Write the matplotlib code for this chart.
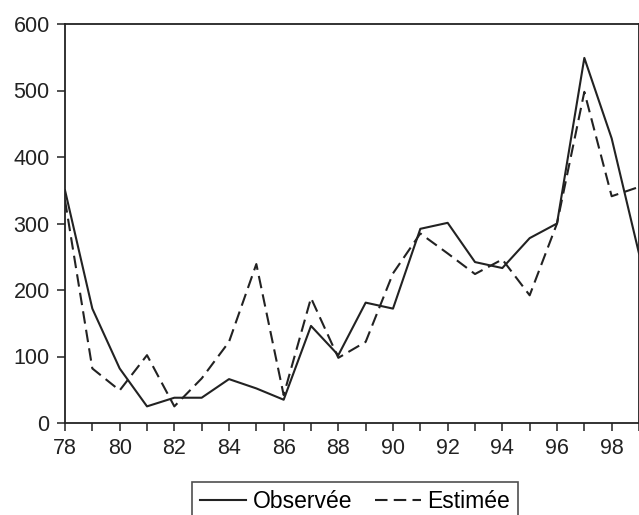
import matplotlib
matplotlib.use("Agg")
import matplotlib.pyplot as plt
from matplotlib.ticker import MultipleLocator

plt.rcParams['font.family'] = ['Liberation Sans', 'DejaVu Sans']

years = list(range(78, 100))
observee = [350, 172, 82, 25, 38, 38, 66, 52, 35, 146, 102, 181, 172, 292,
            301, 242, 233, 278, 300, 549, 428, 255]
estimee = [335, 82, 49, 102, 25, 67, 122, 239, 42, 188, 98, 122, 225, 285,
           255, 224, 246, 192, 300, 498, 341, 355]
xticks = list(range(78, 100, 2))
xticklabels = [str(v) for v in xticks]
yticks = [0, 100, 200, 300, 400, 500, 600]

fig = plt.figure(figsize=(6.39, 5.15), dpi=100)
ax = fig.add_axes([65/639, 1-423/515, 1-65/639, (423-24)/515])
ax.plot(years, observee, color='#222222', lw=1.5, label='Observée')
ax.plot(years, estimee, color='#222222', lw=1.5, ls=(0, (6, 3)), label='Estimée')
ax.set_xlim(78, 99)
ax.set_ylim(0, 600)
ax.set_xticks(xticks)
ax.set_xticklabels(xticklabels)
ax.xaxis.set_minor_locator(MultipleLocator(1))
ax.set_yticks(yticks)
ax.tick_params(axis='both', which='both', direction='out', labelsize=15.5,
               color='#222222', labelcolor='#222222', width=1.1)
ax.tick_params(axis='both', which='major', length=6, pad=5)
ax.tick_params(axis='x', which='minor', length=6)
for s in ax.spines.values():
    s.set_color('#222222')
    s.set_linewidth(1.3)
leg = fig.legend(loc='upper center', bbox_to_anchor=(355/639, 1-482/515), ncol=2,
                 frameon=True, fancybox=False, edgecolor='#222222', fontsize=16.5,
                 handlelength=2.0, handletextpad=0.3, columnspacing=1.0,
                 borderpad=0.35, borderaxespad=0)
leg.get_frame().set_linewidth(1.2)
fig.savefig('out.png', dpi=100)
